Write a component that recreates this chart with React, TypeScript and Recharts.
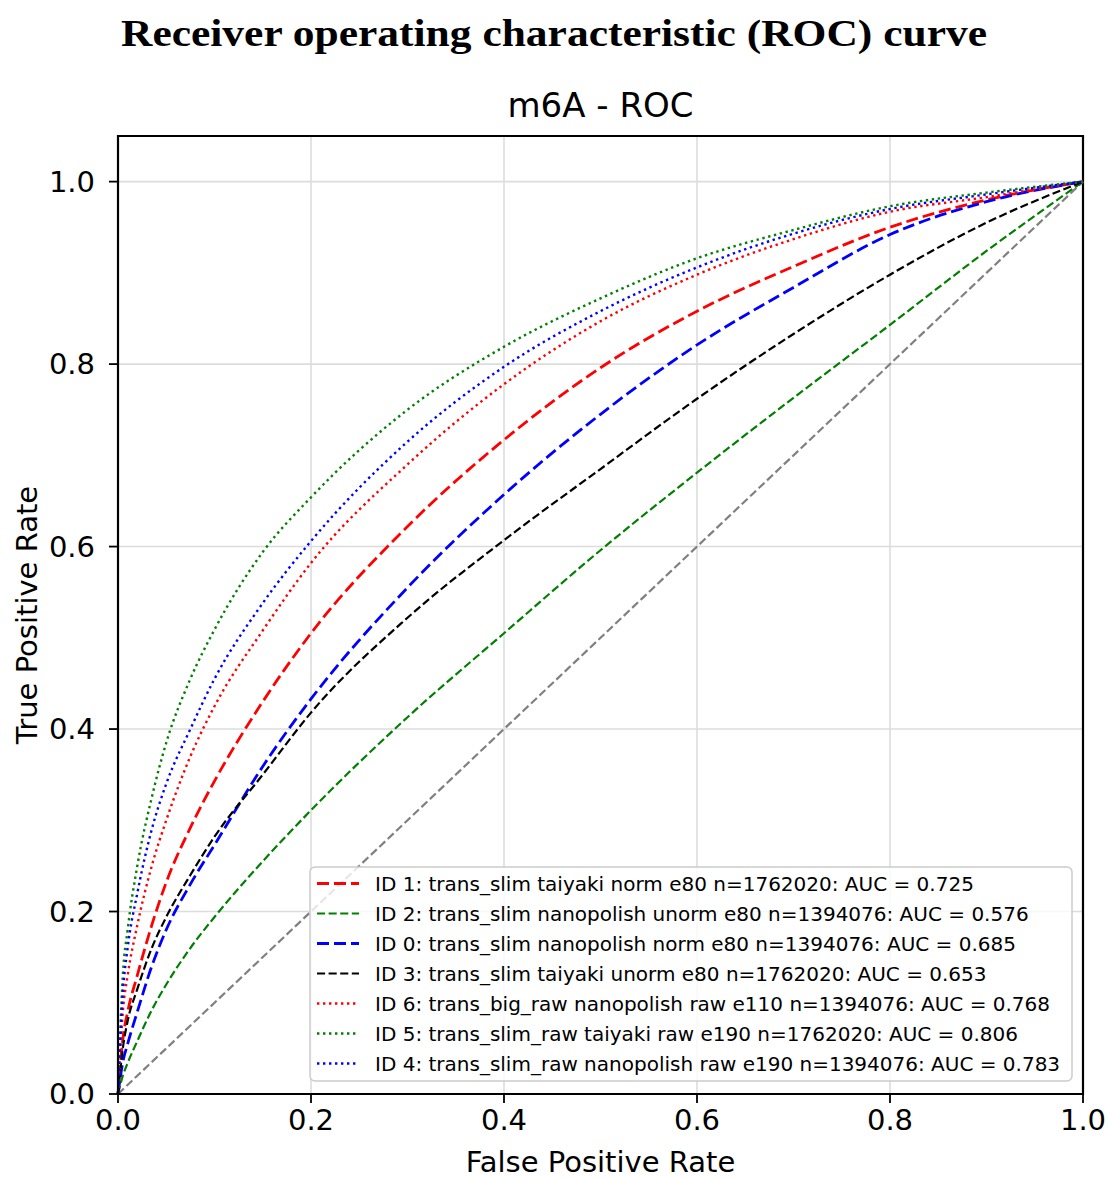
import React from 'react';
import { LineChart, Line, XAxis, YAxis, CartesianGrid, ReferenceArea, Legend } from 'recharts';

// false positive rates shared by all ROC curves
const fprSteps = [0, 0.005, 0.01, 0.02, 0.035, 0.05, 0.075, 0.1, 0.15, 0.2, 0.3, 0.4, 0.5, 0.6, 0.7, 0.8, 0.9, 1];

// true positive rates per model
const tprId1 = [0, 0.06, 0.09, 0.13, 0.185, 0.232, 0.292, 0.343, 0.43, 0.505, 0.622, 0.717, 0.796, 0.858, 0.907, 0.95, 0.98, 1];
const tprId2 = [0, 0.02, 0.034, 0.058, 0.092, 0.12, 0.16, 0.194, 0.255, 0.311, 0.413, 0.505, 0.596, 0.681, 0.763, 0.843, 0.924, 1];
const tprId0 = [0, 0.035, 0.055, 0.09, 0.14, 0.18, 0.23, 0.273, 0.359, 0.433, 0.555, 0.657, 0.745, 0.821, 0.884, 0.942, 0.978, 1];
const tprId3 = [0, 0.05, 0.08, 0.115, 0.16, 0.194, 0.24, 0.282, 0.35, 0.418, 0.522, 0.607, 0.685, 0.762, 0.833, 0.898, 0.955, 1];
const tprId6 = [0, 0.09, 0.13, 0.185, 0.25, 0.3, 0.37, 0.425, 0.508, 0.582, 0.69, 0.778, 0.847, 0.898, 0.937, 0.967, 0.983, 1];
const tprId5 = [0, 0.13, 0.18, 0.25, 0.325, 0.385, 0.455, 0.509, 0.594, 0.654, 0.75, 0.819, 0.872, 0.916, 0.947, 0.973, 0.988, 1];
const tprId4 = [0, 0.11, 0.16, 0.22, 0.29, 0.34, 0.4, 0.455, 0.538, 0.606, 0.715, 0.797, 0.858, 0.906, 0.943, 0.97, 0.986, 1];

// chance line
const chanceFpr = [0, 1];
const chanceTpr = [0, 1];

const rateTicks = [0, 0.2, 0.4, 0.6, 0.8, 1.0];

const DASHED = '8.1 3.5';
const DASHED_WIDE = '12 5';
const DOTTED = '2.4 3.6';

const series = [
  { key: 'id1', name: 'ID 1: trans_slim taiyaki norm e80 n=1762020: AUC = 0.725', values: tprId1, color: '#ff0000', width: 2.8, dash: DASHED_WIDE },
  { key: 'id2', name: 'ID 2: trans_slim nanopolish unorm e80 n=1394076: AUC = 0.576', values: tprId2, color: '#008000', width: 2.2, dash: DASHED },
  { key: 'id0', name: 'ID 0: trans_slim nanopolish norm e80 n=1394076: AUC = 0.685', values: tprId0, color: '#0000ff', width: 2.8, dash: DASHED_WIDE },
  { key: 'id3', name: 'ID 3: trans_slim taiyaki unorm e80 n=1762020: AUC = 0.653', values: tprId3, color: '#000000', width: 2.2, dash: DASHED },
  { key: 'id6', name: 'ID 6: trans_big_raw nanopolish raw e110 n=1394076: AUC = 0.768', values: tprId6, color: '#ff0000', width: 2.4, dash: DOTTED },
  { key: 'id5', name: 'ID 5: trans_slim_raw taiyaki raw e190 n=1762020: AUC = 0.806', values: tprId5, color: '#008000', width: 2.4, dash: DOTTED },
  { key: 'id4', name: 'ID 4: trans_slim_raw nanopolish raw e190 n=1394076: AUC = 0.783', values: tprId4, color: '#0000ff', width: 2.4, dash: DOTTED },
];

const rows = fprSteps.map((fpr, i) => {
  const row: Record<string, number> = { fpr };
  series.forEach(s => { row[s.key] = s.values[i]; });
  return row;
});

const chanceRows = chanceFpr.map((fpr, i) => ({ fpr, chance: chanceTpr[i] }));

const SANS = 'DejaVu Sans, sans-serif';

function RocLegend() {
  return (
    <svg width={764} height={217} style={{ display: 'block' }}>
      <rect x={1} y={1} width={762} height={214} rx={5} fill="#ffffff" fillOpacity={0.8} stroke="#cccccc" strokeWidth={1.5} />
      {series.map((s, i) => {
        const cy = 17.5 + i * 30;
        return (
          <g key={s.key}>
            <line x1={8} x2={50} y1={cy} y2={cy} stroke={s.color} strokeWidth={s.width} strokeDasharray={s.dash} />
            <text x={66} y={cy + 7} fontSize={20} fontFamily={SANS} fill="#000">{s.name}</text>
          </g>
        );
      })}
    </svg>
  );
}

export default function App() {
  return (
    <div style={{ position: 'absolute', left: 0, top: 0, width: 1108, height: 1178, background: '#fff' }}>
      <LineChart
        width={1108}
        height={1178}
        data={rows}
        margin={{ top: 136, right: 25, bottom: 0, left: 0 }}
      >
        <CartesianGrid stroke="#dcdcdc" strokeWidth={1.6} ticks={rateTicks} />
        <XAxis
          dataKey="fpr"
          type="number"
          domain={[0, 1]}
          ticks={rateTicks}
          tickFormatter={(v: number) => v.toFixed(1)}
          height={84}
          tickSize={9}
          tickMargin={6}
          axisLine={{ stroke: '#000', strokeWidth: 2 }}
          tickLine={{ stroke: '#000', strokeWidth: 1.8 }}
          tick={{ fontSize: 29, fill: '#000', fontFamily: SANS }}
          interval={0}
        />
        <YAxis
          type="number"
          domain={[0, 1.05]}
          ticks={rateTicks}
          tickFormatter={(v: number) => v.toFixed(1)}
          width={118}
          tickSize={9}
          tickMargin={14}
          axisLine={{ stroke: '#000', strokeWidth: 2 }}
          tickLine={{ stroke: '#000', strokeWidth: 1.8 }}
          tick={{ fontSize: 29, fill: '#000', fontFamily: SANS }}
          interval={0}
          allowDataOverflow
        />
        <Line
          data={chanceRows}
          dataKey="chance"
          type="linear"
          stroke="#808080"
          strokeWidth={2.2}
          strokeDasharray={DASHED}
          dot={false}
          activeDot={false}
          legendType="none"
          isAnimationActive={false}
        />
        {series.map(s => (
          <Line
            key={s.key}
            dataKey={s.key}
            name={s.name}
            type="monotone"
            stroke={s.color}
            strokeWidth={s.width}
            strokeDasharray={s.dash}
            dot={false}
            activeDot={false}
            isAnimationActive={false}
          />
        ))}
        <ReferenceArea x1={0} x2={1} y1={0} y2={1.05} fill="none" stroke="#000" strokeWidth={2.2} ifOverflow="visible" />
        <Legend
          layout="vertical"
          align="center"
          verticalAlign="middle"
          content={() => <RocLegend />}
          wrapperStyle={{ left: 309, top: 866, width: 764, height: 217 }}
        />
      </LineChart>
      <svg
        width={1108}
        height={1178}
        style={{ position: 'absolute', left: 0, top: 0, pointerEvents: 'none' }}
      >
        <text
          x={554}
          y={46}
          textAnchor="middle"
          fontFamily="Liberation Serif, serif"
          fontWeight="bold"
          fontSize={37}
          textLength={866}
          lengthAdjust="spacingAndGlyphs"
          fill="#000"
        >
          Receiver operating characteristic (ROC) curve
        </text>
        <text x={600.5} y={117} textAnchor="middle" fontFamily={SANS} fontSize={34} fill="#000">m6A - ROC</text>
        <text x={600.5} y={1172} textAnchor="middle" fontFamily={SANS} fontSize={29} fill="#000">False Positive Rate</text>
        <text
          x={37}
          y={615}
          textAnchor="middle"
          transform="rotate(-90, 37, 615)"
          fontFamily={SANS}
          fontSize={29}
          fill="#000"
        >
          True Positive Rate
        </text>
      </svg>
    </div>
  );
}
